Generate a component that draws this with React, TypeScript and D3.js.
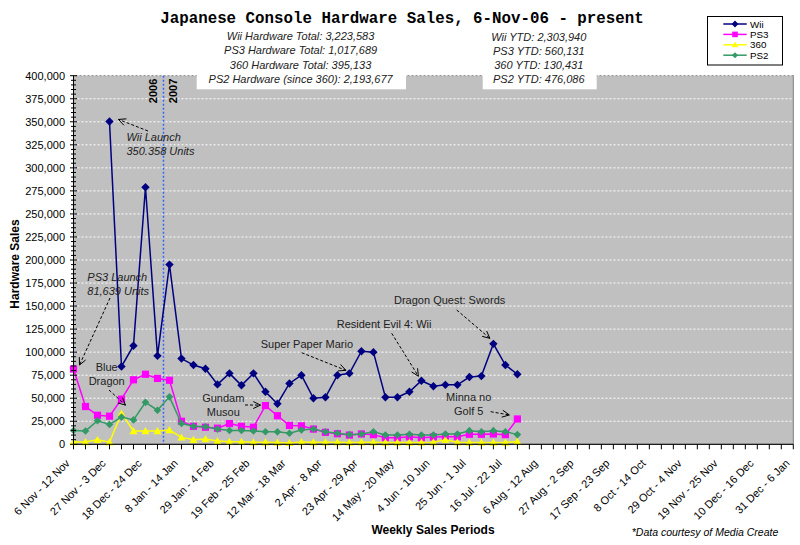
import React from "react";
import * as d3 from "d3";

// ---------- DATA ----------
const weekCount = 61; // 6 Nov 2006 ... 31 Dec 2007 (weekly)
const tickLabels = [
  "6 Nov - 12 Nov", "27 Nov - 3 Dec", "18 Dec - 24 Dec", "8 Jan - 14 Jan", "29 Jan - 4 Feb",
  "19 Feb - 25 Feb", "12 Mar - 18 Mar", "2 Apr - 8 Apr", "23 Apr - 29 Apr", "14 May - 20 May",
  "4 Jun - 10 Jun", "25 Jun - 1 Jul", "16 Jul - 22 Jul", "6 Aug - 12 Aug", "27 Aug - 2 Sep",
  "17 Sep - 23 Sep", "8 Oct - 14 Oct", "29 Oct - 4 Nov", "19 Nov - 25 Nov", "10 Dec - 16 Dec",
  "31 Dec - 6 Jan",
];
const tickEvery = 3;

const wiiStart = 3;
const wiiSales = [
  350358, 84500, 107000, 279000, 96000, 195000, 93000, 86000, 82000, 65000,
  77000, 64000, 77000, 57000, 44000, 66000, 75000, 50000, 51000, 75000,
  77000, 101000, 100000, 51000, 51000, 57000, 69000, 63000, 64500, 64500,
  73000, 74000, 109000, 86000, 76000,
];
const ps3Sales = [
  81639, 41000, 31500, 30500, 49000, 70000, 76000, 71500, 69500, 25000,
  19500, 18500, 17500, 22500, 19500, 18500, 42000, 31000, 20500, 20000,
  16500, 13000, 11500, 10000, 11200, 10500, 7200, 7200, 8200, 7200,
  8000, 8200, 8200, 10900, 10900, 11200, 10500, 27500,
];
const x360Sales = [
  2500, 2500, 4800, 2300, 33500, 14500, 14500, 14500, 15500, 7500,
  5000, 5800, 3600, 2800, 2800, 2300, 2300, 2000, 1500, 2500,
  2300, 2300, 2300, 2000, 2300, 2300, 2000, 2000, 2000, 2000,
  2300, 5000, 2300, 2000, 2000, 2000, 2000, 3000,
];
const ps2Sales = [
  15000, 14500, 25500, 21500, 29500, 26500, 45500, 37000, 51500, 22500,
  19500, 19000, 16500, 15000, 15000, 14500, 13700, 13500, 12000, 15500,
  16600, 13500, 12000, 10500, 11200, 13700, 10100, 10100, 10900, 10100,
  10100, 11200, 11200, 14800, 13700, 14800, 13700, 10500,
];
const yearBreak = 7.5; // between 25 Dec - 31 Dec and 1 Jan - 7 Jan

const totalsLines = [
  "Wii Hardware Total:  3,223,583",
  "PS3 Hardware Total:  1,017,689",
  "360 Hardware Total: 395,133",
  "PS2 Hardware (since 360): 2,193,677",
];
const ytdLines = [
  "Wii YTD:  2,303,940",
  "PS3 YTD:  560,131",
  "360 YTD: 130,431",
  "PS2 YTD: 476,086",
];

// ---------- LAYOUT ----------
const W = 800, H = 545;
const plot = { left: 73.5, right: 793.3, top: 75.7, bottom: 444.3 };
const FONT = "'Liberation Sans', Arial, sans-serif";

type Pt = { i: number; v: number };
const toPts = (arr: number[], start = 0): Pt[] => arr.map((v, k) => ({ i: k + start, v }));

const seriesDefs = [
  { name: "Wii", color: "#000080", pts: toPts(wiiSales, wiiStart), marker: "diamond", size: 4.2 },
  { name: "PS3", color: "#ff00ff", pts: toPts(ps3Sales), marker: "square", size: 3.6 },
  { name: "360", color: "#ffff00", pts: toPts(x360Sales), marker: "triangle", size: 4 },
  { name: "PS2", color: "#339966", pts: toPts(ps2Sales), marker: "diamond", size: 3.8 },
];

function Marker({ kind, x, y, s, color }: { kind: string; x: number; y: number; s: number; color: string }) {
  if (kind === "diamond")
    return <path d={`M${x},${y - s}L${x + s},${y}L${x},${y + s}L${x - s},${y}Z`} fill={color} />;
  if (kind === "square")
    return <rect x={x - s} y={y - s} width={2 * s} height={2 * s} fill={color} />;
  return <path d={`M${x},${y - s}L${x + s},${y + s * 0.8}L${x - s},${y + s * 0.8}Z`} fill={color} />;
}

function Arrow({ x1, y1, x2, y2 }: { x1: number; y1: number; x2: number; y2: number }) {
  const a = Math.atan2(y2 - y1, x2 - x1);
  const L = 8, sp = 0.45;
  const p1 = [x2 - L * Math.cos(a - sp), y2 - L * Math.sin(a - sp)];
  const p2 = [x2 - L * Math.cos(a + sp), y2 - L * Math.sin(a + sp)];
  return (
    <g stroke="#000" strokeWidth={1} fill="none">
      <line x1={x1} y1={y1} x2={x2} y2={y2} strokeDasharray="3,2" />
      <path d={`M${p1[0]},${p1[1]}L${x2},${y2}L${p2[0]},${p2[1]}`} />
    </g>
  );
}

export default function App() {
  const x = d3.scaleLinear().domain([0, weekCount - 1]).range([plot.left, plot.right]);
  const y = d3.scaleLinear().domain([0, 400000]).range([plot.bottom, plot.top]);
  const line = d3.line<Pt>().x((d) => x(d.i)).y((d) => y(d.v));

  const majors = d3.range(0, 400001, 25000);
  const minors = d3.range(0, 400001, 5000).filter((v) => v % 25000 !== 0);
  const cats = d3.range(0, weekCount);

  const ptOf = (s: number, i: number) => {
    const p = seriesDefs[s].pts.find((d) => d.i === i)!;
    return [x(p.i), y(p.v)];
  };

  const annotations = [
    { lines: ["Wii Launch", "350.358 Units"], italic: true, anchor: "start", tx: 126.5, ty: 140.7, from: [148, 131], s: 0, i: 3, off: [9, -2] },
    { lines: ["PS3 Launch", "81,639 Units"], italic: true, anchor: "start", tx: 87.3, ty: 280.7, from: [110, 298], s: 1, i: 0, off: [6, -4] },
    { lines: ["Blue", "Dragon"], italic: false, anchor: "middle", tx: 106.7, ty: 370.7, from: [109, 390], s: 1, i: 4, off: [4, 6] },
    { lines: ["Gundam", "Musou"], italic: false, anchor: "middle", tx: 223.3, ty: 401.7, from: [245, 405], s: 1, i: 16, off: [-5, -0.5] },
    { lines: ["Super Paper Mario"], italic: false, anchor: "start", tx: 260.7, ty: 348.3, from: [301.7, 352.7], s: 0, i: 23, off: [-3.5, -3] },
    { lines: ["Resident Evil 4: Wii"], italic: false, anchor: "start", tx: 336.7, ty: 328.3, from: [391.7, 333.3], s: 0, i: 29, off: [-3, -4.5] },
    { lines: ["Dragon Quest: Swords"], italic: false, anchor: "start", tx: 394, ty: 304.3, from: [456.7, 310], s: 0, i: 35, off: [-3.5, -5.5] },
    { lines: ["Minna no", "Golf 5"], italic: false, anchor: "middle", tx: 468.7, ty: 400.7, from: [490.7, 411.7], s: 1, i: 37, off: [-8, -4] },
  ];

  const legendItems = seriesDefs.map((s, k) => ({ ...s, ly: 24 + k * 10.4 }));

  return (
    <svg width={W} height={H} style={{ position: "absolute", left: 0, top: 0, background: "#fff" }} fontFamily={FONT}>
      <rect x={0} y={0} width={W} height={H} fill="#fff" />
      {/* plot area */}
      <rect x={plot.left} y={plot.top} width={plot.right - plot.left} height={plot.bottom - plot.top} fill="#c0c0c0" stroke="#808080" strokeWidth={1} />
      {majors.filter((v) => v > 0).map((v) => (
        <line key={v} x1={plot.left} x2={plot.right} y1={y(v)} y2={y(v)} stroke="#fff" strokeWidth={1} strokeDasharray="2,2" />
      ))}
      {/* year divider */}
      <line x1={x(yearBreak)} x2={x(yearBreak)} y1={plot.top} y2={plot.bottom} stroke="#3366ff" strokeWidth={1.5} strokeDasharray="2,2" />
      <text transform={`translate(${x(yearBreak) - 6},${plot.top + 3}) rotate(-90)`} textAnchor="end" fontSize={11} fontWeight="bold">2006</text>
      <text transform={`translate(${x(yearBreak) + 14},${plot.top + 3}) rotate(-90)`} textAnchor="end" fontSize={11} fontWeight="bold">2007</text>

      {/* text boxes */}
      <rect x={196.7} y={28} width={209.3} height={61.3} fill="#fff" />
      <rect x={482.7} y={28} width={114} height={61.3} fill="#fff" />
      {totalsLines.map((t, k) => (
        <text key={t} x={300.6} y={40 + k * 14.25} textAnchor="middle" fontSize={11} fontStyle="italic" fill="#222">{t}</text>
      ))}
      {ytdLines.map((t, k) => (
        <text key={t} x={538.8} y={40.5 + k * 14.25} textAnchor="middle" fontSize={11} fontStyle="italic" fill="#222">{t}</text>
      ))}

      {/* series */}
      {seriesDefs.map((s) => (
        <g key={s.name}>
          <path d={line(s.pts)!} fill="none" stroke={s.color} strokeWidth={1.5} />
          {s.pts.map((p) => (
            <Marker key={p.i} kind={s.marker} x={x(p.i)} y={y(p.v)} s={s.size} color={s.color} />
          ))}
        </g>
      ))}

      {/* annotations */}
      {annotations.map((a, k) => {
        const [px, py] = ptOf(a.s, a.i);
        return (
          <g key={k}>
            {a.lines.map((t, j) => (
              <text key={j} x={a.tx} y={a.ty + j * 14.3} textAnchor={a.anchor as any} fontSize={11} fontStyle={a.italic ? "italic" : "normal"} fill="#222">{t}</text>
            ))}
            <Arrow x1={a.from[0]} y1={a.from[1]} x2={px + a.off[0]} y2={py + a.off[1]} />
          </g>
        );
      })}

      {/* y axis */}
      <line x1={plot.left} x2={plot.left} y1={plot.top} y2={plot.bottom} stroke="#000" />
      {minors.map((v) => (
        <line key={v} x1={plot.left - 2.5} x2={plot.left + 2.5} y1={y(v)} y2={y(v)} stroke="#000" />
      ))}
      {majors.map((v) => (
        <g key={v}>
          <line x1={plot.left - 3.5} x2={plot.left + 3.5} y1={y(v)} y2={y(v)} stroke="#000" />
          <text x={65} y={y(v) + 4} textAnchor="end" fontSize={11} fill="#000">{d3.format(",")(v)}</text>
        </g>
      ))}
      <text transform={`translate(18.5,264) rotate(-90)`} textAnchor="middle" fontSize={12} fontWeight="bold">Hardware Sales</text>

      {/* x axis */}
      <line x1={plot.left} x2={plot.right} y1={plot.bottom} y2={plot.bottom} stroke="#000" />
      {cats.map((i) => (
        <line key={i} x1={x(i)} x2={x(i)} y1={plot.bottom} y2={plot.bottom + 5} stroke="#000" />
      ))}
      {tickLabels.map((t, k) => (
        <text key={t} transform={`translate(${x(k * tickEvery) - 3},464) rotate(-45)`} textAnchor="end" fontSize={11}>{t}</text>
      ))}
      <text x={433} y={534} textAnchor="middle" fontSize={12} fontWeight="bold">Weekly Sales Periods</text>
      <text x={705} y={536} textAnchor="middle" fontSize={10.5} fontStyle="italic">*Data courtesy of Media Create</text>

      {/* title */}
      <text x={402} y={23} textAnchor="middle" fontSize={15.8} fontWeight="bold" fontFamily="'Liberation Mono', 'Courier New', monospace">
        Japanese Console Hardware Sales, 6-Nov-06 - present
      </text>

      {/* legend */}
      <rect x={707.5} y={16.5} width={75} height={48.5} fill="#fff" stroke="#000" strokeWidth={1} />
      {legendItems.map((s) => (
        <g key={s.name}>
          <line x1={723.3} x2={746.7} y1={s.ly} y2={s.ly} stroke={s.color} strokeWidth={1.5} />
          <Marker kind={s.marker} x={735} y={s.ly} s={s.size - 0.8} color={s.color} />
          <text x={750} y={s.ly + 3.5} fontSize={9.8}>{s.name}</text>
        </g>
      ))}
    </svg>
  );
}
